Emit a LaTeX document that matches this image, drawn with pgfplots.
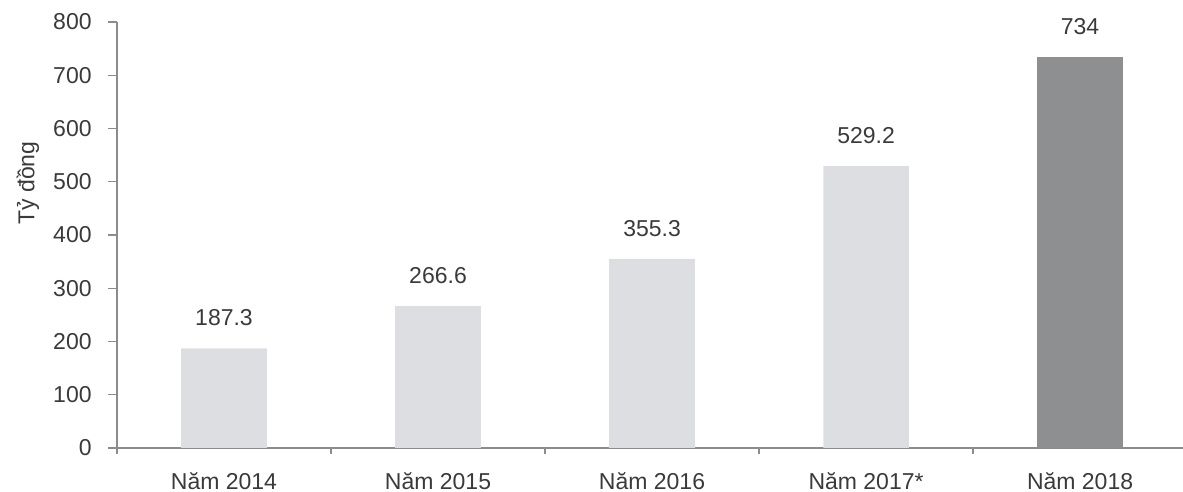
\documentclass[border=0pt]{standalone}
\usepackage{pgfplots}
\pgfplotsset{compat=1.18}
\usepackage{fontspec}
\setmainfont{Liberation Sans}
\definecolor{txt}{HTML}{3A3A3A}
\definecolor{axisgrey}{HTML}{8C8C8C}
\definecolor{lightbar}{HTML}{DCDEE2}
\definecolor{darkbar}{HTML}{8E8F91}

\pgfplotstableread{
x  val
0  187.3
1  266.6
2  355.3
3  529.2
}\lighttable
\pgfplotstableread{
x  val
4  734
}\darktable

\begin{document}
\begin{tikzpicture}
\useasboundingbox (-58.5pt,-22pt) rectangle (533pt,224pt);
\begin{axis}[
  at={(0,0)}, anchor=south west,
  scale only axis, width=533pt, height=213pt,
  xmin=-0.5, xmax=4.481, ymin=0, ymax=800,
  axis lines*=left,
  axis line style={axisgrey, line width=0.6pt},
  font=\fontsize{11.5}{13}\selectfont\color{txt},
  xtick={0,1,2,3,4},
  xticklabels={Năm 2014, Năm 2015, Năm 2016, Năm 2017*, Năm 2018},
  major x tick style={draw=none},
  minor xtick={-0.5,0.5,1.5,2.5,3.5},
  minor x tick style={axisgrey, line width=0.6pt},
  minor tick length=3pt,
  xticklabel style={anchor=north, inner sep=0pt, yshift=-7.5pt},
  ytick={0,100,...,800},
  major y tick style={axisgrey, line width=0.6pt},
  major tick length=4.5pt,
  tick align=outside,
  yticklabel style={anchor=east, inner sep=0pt, xshift=-8pt},
  /pgf/number format/assume math mode=true,
  ylabel={Tỷ đồng},
  ylabel style={at={(axis description cs:-0.0835,0.622)}, anchor=center},
  ybar, bar width=0.4, bar shift=0pt,
  nodes near coords,
  every node near coord/.append style={anchor=south, inner sep=0pt, yshift=11pt, font=\fontsize{11.5}{13}\selectfont, text=txt},
  clip=false,
]
\addplot[fill=lightbar, draw=none] table[x=x, y=val] {\lighttable};
\addplot[fill=darkbar, draw=none] table[x=x, y=val] {\darktable};
\end{axis}
\end{tikzpicture}
\end{document}
